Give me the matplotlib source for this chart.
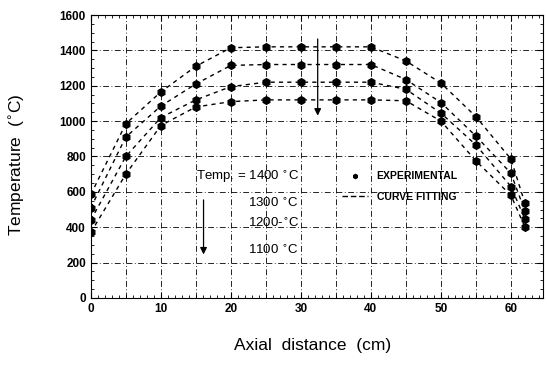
import numpy as np
import matplotlib.pyplot as plt
from matplotlib.lines import Line2D

# 軸方向距離 (cm)
distance = [0, 5, 10, 15, 20, 25, 30, 35, 40, 45, 50, 55, 60, 62]
# 各設定温度での実測値 (°C)
temp_1400 = [585, 985, 1165, 1310, 1415, 1420, 1420, 1420, 1420, 1340, 1215, 1025, 785, 535]
temp_1300 = [510, 910, 1085, 1210, 1315, 1320, 1320, 1320, 1320, 1235, 1105, 915, 705, 490]
temp_1200 = [440, 800, 1020, 1120, 1195, 1220, 1220, 1220, 1220, 1180, 1045, 865, 630, 445]
temp_1100 = [370, 700, 975, 1080, 1110, 1120, 1120, 1120, 1120, 1115, 1000, 775, 580, 400]
series = [temp_1400, temp_1300, temp_1200, temp_1100]
set_labels = ["Temp. = 1400 $^{\\circ}$C", "1300 $^{\\circ}$C", "1200-$^{\\circ}$C", "1100 $^{\\circ}$C"]

plt.rcParams['font.family'] = ['Liberation Sans', 'DejaVu Sans']

fig = plt.figure(figsize=(5.47, 3.66), dpi=100)
ax = fig.add_axes([0.166, 0.186, 0.827, 0.773])

for s in series:
    ax.plot(distance, s, linestyle=(0, (3, 3)), color='black', linewidth=1.0)
    ax.plot(distance, s, 'h', color='black', markersize=5.5)

ax.set_xlim(0, 64.6)
ax.set_ylim(0, 1600)
ax.set_xticks([0, 10, 20, 30, 40, 50, 60])
ax.set_xticks(np.arange(0, 65, 1), minor=True)
ax.set_yticks(np.arange(0, 1601, 200))
ax.set_yticks(np.arange(0, 1601, 50), minor=True)
ax.tick_params(which='both', direction='in', top=True, right=True, labelsize=8.5)
ax.tick_params(which='major', length=4)
ax.tick_params(which='minor', length=2)
for lab in ax.get_xticklabels() + ax.get_yticklabels():
    lab.set_fontweight('bold')

# 5cm毎の縦グリッドと200毎の横グリッド
for gx in np.arange(5, 64, 5):
    ax.axvline(gx, color='black', linewidth=0.6, linestyle=(0, (7, 3, 1, 3)), zorder=0)
for gy in np.arange(200, 1600, 200):
    ax.axhline(gy, color='black', linewidth=0.6, linestyle=(0, (7, 3, 1, 3)), zorder=0)

ax.set_xlabel("Axial  distance  (cm)", fontsize=12.5)
ax.xaxis.set_label_coords(0.49, -0.14)
ax.set_ylabel("Temperature  ($^{\\circ}$C)", fontsize=12.5)
ax.yaxis.set_label_coords(-0.142, 0.47)

# 温度ラベル
label_y = [684, 537, 424, 266]
for txt, ty in zip(set_labels, label_y):
    ax.text(29.7, ty, txt, ha='right', va='center', fontsize=9.5)

ax.annotate("", xy=(16.1, 230), xytext=(16.1, 570),
            arrowprops=dict(arrowstyle='-|>', color='black', lw=0.9))
ax.annotate("", xy=(32.4, 1015), xytext=(32.4, 1480),
            arrowprops=dict(arrowstyle='-|>', color='black', lw=0.9))

handles = [Line2D([], [], marker='h', linestyle='none', color='black', markersize=3),
           Line2D([], [], linestyle=(0, (4, 2)), color='black', linewidth=1.0)]
leg = ax.legend(handles, ["EXPERIMENTAL", "CURVE FITTING"], loc='upper left',
                bbox_to_anchor=(0.535, 0.48), frameon=False,
                prop={'size': 7.5, 'weight': 'bold'}, handlelength=2.5, labelspacing=1.0)

fig.savefig("out.png", dpi=100)
